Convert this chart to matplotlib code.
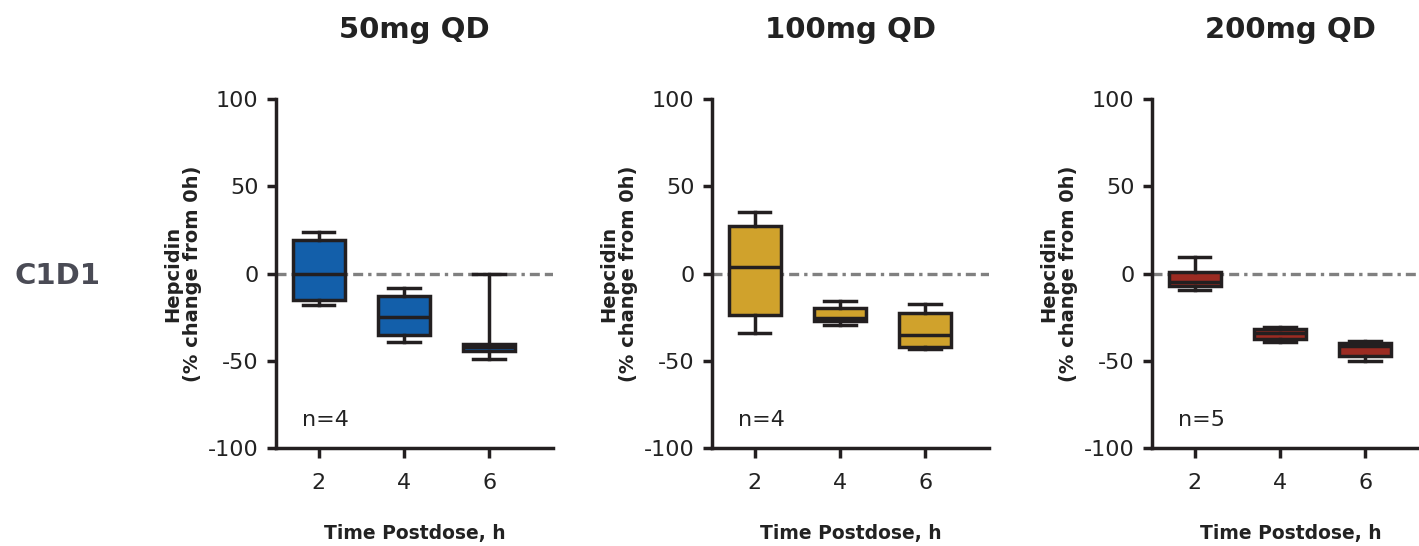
import matplotlib

matplotlib.use("Agg")
import matplotlib.pyplot as plt

plt.rcParams["font.family"] = ["DejaVu Sans"]
plt.rcParams["axes.unicode_minus"] = False

EDGE = "#231F20"

# Dose groups, fill colours and sample size
doses = ["50mg QD", "100mg QD", "200mg QD"]
fills = ["#135FAA", "#D0A22C", "#9B2B22"]
n_labels = ["n=4", "n=4", "n=5"]
times = [2, 4, 6]

# Box statistics per dose group, one value per time point (2h, 4h, 6h)
whislo = [[-18, -39, -49], [-34, -29.5, -43.5], [-9.5, -39, -50]]
q1 = [[-15, -35, -44.5], [-24, -27.5, -42], [-7, -37.5, -47]]
med = [[0, -25, -42], [3.5, -25.5, -35.5], [-5, -34, -41.5]]
q3 = [[19, -13, -40.5], [27.5, -19.5, -22.5], [1, -32, -40]]
whishi = [[24, -8.5, 0], [35.5, -16, -17.5], [9.5, -30.5, -38.5]]

fig = plt.figure(figsize=(14.19, 5.46), dpi=100)

lefts = [276, 712, 1152]
W, H = 1419, 546
for i, dose in enumerate(doses):
    ax = fig.add_axes([lefts[i] / W, 1 - 448 / H, 277 / W, 349 / H])
    stats = [
        dict(whislo=whislo[i][k], q1=q1[i][k], med=med[i][k],
             q3=q3[i][k], whishi=whishi[i][k], fliers=[])
        for k in range(len(times))
    ]
    # reference line at no change
    ax.axhline(0, color="#808080", lw=2.4, ls=(0, (3, 1.5, 1, 1.5, 3, 1.5)),
               zorder=1)
    ax.bxp(
        stats, positions=times, widths=1.22, patch_artist=True,
        showfliers=False,
        boxprops=dict(facecolor=fills[i], edgecolor=EDGE, linewidth=2.5),
        medianprops=dict(color=EDGE, linewidth=2.5),
        whiskerprops=dict(color=EDGE, linewidth=2.5),
        capprops=dict(color=EDGE, linewidth=2.5),
        capwidths=0.74,
        zorder=3,
    )

    ax.set_xlim(1, 7.5)
    ax.set_ylim(-100, 100)
    ax.set_yticks([-100, -50, 0, 50, 100])
    ax.set_xticks(times)
    ax.set_xticklabels([str(t) for t in times])
    for side in ("top", "right"):
        ax.spines[side].set_visible(False)
    for side in ("left", "bottom"):
        ax.spines[side].set_linewidth(2.5)
        ax.spines[side].set_color(EDGE)
    ax.tick_params(axis="y", length=6.5, width=2.5, color=EDGE,
                   labelsize=16, pad=6, labelcolor="#222222")
    ax.tick_params(axis="x", length=7, width=2.5, color=EDGE,
                   labelsize=16, pad=11, labelcolor="#222222")

    ax.set_title(dose, fontsize=21, fontweight="bold", color="#222222",
                 pad=44)
    ax.set_xlabel("Time Postdose, h", fontsize=13.5, fontweight="bold",
                  color="#222222", va="center")
    ax.xaxis.set_label_coords(0.5, -0.244)
    ax.text(-0.337, 0.5, "Hepcidin\n(% change from 0h)", transform=ax.transAxes,
            rotation=90, ha="center", va="center", fontsize=14,
            fontweight="bold", color="#222222", linespacing=1.1)
    ax.text(1.6, -84, n_labels[i], fontsize=16, va="center", color="#222222")

fig.text(15 / W, 1 - 276 / H, "C1D1", fontsize=21, fontweight="bold",
         color="#4A4B55", ha="left", va="center")

fig.savefig("out.png", dpi=100)
plt.close(fig)
